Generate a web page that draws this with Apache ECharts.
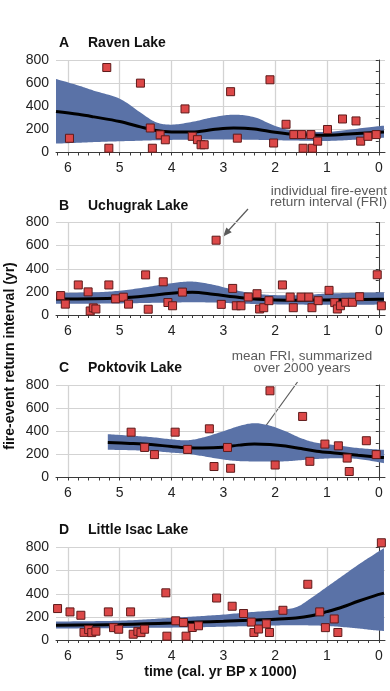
<!DOCTYPE html>
<html><head><meta charset="utf-8">
<script src="https://cdn.jsdelivr.net/npm/echarts@6/dist/echarts.min.js"></script>
<style>html,body{margin:0;padding:0;background:#fff}#c{width:390px;height:691px}</style>
</head><body><div id="c"></div>
<script>
// ---- labels ----
const xTickLabels = [0, 1, 2, 3, 4, 5, 6];
const yTickLabels = [0, 200, 400, 600, 800];
const panelLetters = ['A', 'B', 'C', 'D'];
const lakeNames = ['Raven Lake', 'Uchugrak Lake', 'Poktovik Lake', 'Little Isac Lake'];
const yAxisTitle = 'fire-event return interval (yr)';
const xAxisTitle = 'time (cal. yr BP x 1000)';
const noteFRI = ['individual fire-event', 'return interval (FRI)'];
const noteMean = ['mean FRI, summarized', 'over 2000 years'];

// ---- individual fire-event return intervals (time in ka BP, FRI in yr) ----
const ravenT = [5.97, 5.25, 5.21, 4.60, 4.41, 4.37, 4.22, 4.12, 3.74, 3.60, 3.50, 3.43, 3.37, 2.86, 2.73, 2.10, 2.03, 1.79, 1.64, 1.49, 1.46, 1.31, 1.28, 1.18, 0.99, 0.70, 0.44, 0.35, 0.21, 0.05];
const ravenV = [123, 735, 37, 600, 212, 37, 153, 110, 377, 140, 111, 67, 67, 526, 124, 629, 82, 244, 155, 155, 37, 155, 37, 98, 199, 290, 273, 98, 140, 155];

const uchuT = [6.14, 6.05, 5.80, 5.61, 5.57, 5.51, 5.46, 5.21, 5.08, 4.93, 4.83, 4.50, 4.45, 4.16, 4.07, 3.98, 3.79, 3.14, 3.04, 2.82, 2.75, 2.66, 2.52, 2.35, 2.30, 2.22, 2.12, 1.86, 1.71, 1.65, 1.50, 1.35, 1.29, 1.17, 0.96, 0.85, 0.80, 0.74, 0.64, 0.51, 0.37, 0.03, -0.05];
const uchuV = [168, 94, 260, 200, 35, 62, 52, 260, 140, 154, 94, 347, 50, 287, 108, 80, 198, 647, 92, 230, 80, 80, 156, 184, 52, 63, 124, 260, 155, 63, 155, 155, 63, 124, 213, 107, 52, 80, 110, 110, 158, 348, 80];

const poktT = [4.78, 4.52, 4.33, 3.93, 3.69, 3.27, 3.18, 2.92, 2.86, 2.10, 2.00, 1.47, 1.33, 1.04, 0.78, 0.61, 0.57, 0.24, 0.05];
const poktV = [392, 260, 198, 392, 243, 421, 95, 260, 80, 750, 108, 528, 140, 289, 274, 168, 52, 318, 198];

const isacT = [6.20, 5.96, 5.75, 5.69, 5.60, 5.54, 5.46, 5.22, 5.12, 5.02, 4.79, 4.74, 4.65, 4.59, 4.52, 4.11, 4.09, 3.92, 3.77, 3.72, 3.60, 3.48, 3.13, 2.83, 2.61, 2.46, 2.41, 2.32, 2.17, 2.11, 1.85, 1.37, 1.14, 1.03, 0.86, 0.79, -0.05];
const isacV = [272, 243, 214, 66, 90, 64, 76, 243, 107, 93, 243, 50, 75, 64, 93, 408, 33, 166, 152, 33, 108, 123, 363, 292, 229, 155, 65, 95, 140, 65, 257, 482, 243, 107, 182, 65, 841];

// ---- mean FRI and confidence band ----
const ravenBandT = [6.23, 5.8, 5.5, 5.0, 4.6, 4.3, 4.0, 3.6, 3.2, 2.8, 2.4, 2.0, 1.6, 1.0, 0.5, 0, -0.1];
const ravenMean  = [355, 330, 308, 268, 222, 190, 178, 178, 198, 212, 204, 175, 156, 150, 163, 176, 178];
const ravenHi    = [636, 580, 535, 465, 345, 262, 241, 265, 305, 327, 305, 230, 185, 178, 202, 228, 232];
const ravenLo    = [77, 84, 90, 97, 102, 106, 109, 111, 112, 112, 110, 106, 103, 100, 110, 125, 128];

const uchuBandT = [6.23, 5.5, 5.0, 4.5, 4.0, 3.6, 3.2, 2.8, 2.4, 2.0, 1.5, 1.0, 0.5, 0, -0.1];
const uchuMean  = [138, 140, 148, 165, 188, 196, 180, 158, 138, 130, 128, 130, 133, 136, 136];
const uchuHi    = [192, 196, 210, 240, 275, 289, 262, 218, 185, 172, 172, 185, 192, 196, 196];
const uchuLo    = [97, 98, 100, 104, 108, 110, 108, 101, 95, 92, 90, 88, 88, 90, 90];

const poktBandT = [5.23, 4.8, 4.4, 4.0, 3.7, 3.4, 3.0, 2.7, 2.4, 2.1, 1.8, 1.5, 1.2, 0.8, 0.4, 0, -0.1];
const poktMean  = [303, 295, 285, 268, 258, 255, 262, 280, 290, 285, 272, 250, 228, 210, 192, 175, 172];
const poktHi    = [375, 362, 350, 330, 322, 345, 400, 445, 470, 448, 400, 340, 300, 278, 255, 242, 240];
const poktLo    = [240, 236, 230, 215, 205, 185, 155, 142, 139, 139, 140, 150, 160, 167, 160, 132, 124];

const isacBandT = [6.23, 5.5, 5.0, 4.5, 4.0, 3.5, 3.0, 2.5, 2.0, 1.6, 1.3, 1.0, 0.7, 0.4, 0.1, -0.1];
const isacMean  = [127, 130, 133, 140, 147, 155, 162, 170, 179, 190, 210, 245, 285, 335, 380, 405];
const isacHi    = [160, 163, 167, 178, 192, 205, 220, 240, 257, 283, 365, 460, 555, 650, 738, 795];
const isacLo    = [100, 101, 103, 105, 107, 110, 115, 120, 126, 127, 126, 122, 112, 100, 85, 78];

const panels = [
  {t: ravenT, v: ravenV, bt: ravenBandT, mean: ravenMean, hi: ravenHi, lo: ravenLo},
  {t: uchuT, v: uchuV, bt: uchuBandT, mean: uchuMean, hi: uchuHi, lo: uchuLo},
  {t: poktT, v: poktV, bt: poktBandT, mean: poktMean, hi: poktHi, lo: poktLo},
  {t: isacT, v: isacV, bt: isacBandT, mean: isacMean, hi: isacHi, lo: isacLo}
];

// ---- styling / layout ----
const FONT = '"Liberation Sans", Arial, Helvetica, sans-serif';
const gridTops = [60, 222.5, 385, 547.5];
const gridH = 92.5;
const xMin = -0.12, xMax = 6.23;
const bandColor = '#5a72a7';
const axisColor = '#3a3a3a';
const gridColor = '#d3d3d3';
const minorXTicks = [];
for (let k = 0; k <= 31; k++) minorXTicks.push(Math.round(k * 2) / 10);

// Catmull-Rom smoothing of pixel points (shape only; positions come from api.coord)
function spline(pts, steps) {
  const out = [];
  const n = pts.length;
  for (let i = 0; i < n - 1; i++) {
    const p0 = pts[Math.max(0, i - 1)], p1 = pts[i], p2 = pts[i + 1], p3 = pts[Math.min(n - 1, i + 2)];
    for (let s = 0; s < steps; s++) {
      const u = s / steps, u2 = u * u, u3 = u2 * u;
      out.push([0, 1].map(d => 0.5 * (2 * p1[d] + (-p0[d] + p2[d]) * u +
        (2 * p0[d] - 5 * p1[d] + 4 * p2[d] - p3[d]) * u2 + (-p0[d] + 3 * p1[d] - 3 * p2[d] + p3[d]) * u3)));
    }
  }
  out.push(pts[n - 1].slice());
  return out;
}

const grids = [], xAxes = [], yAxes = [], series = [];
panels.forEach((p, i) => {
  grids.push({left: 56, right: 5, top: gridTops[i], height: gridH});
  xAxes.push({
    gridIndex: i, type: 'value', min: xMin, max: xMax, inverse: true,
    axisLine: {show: true, onZero: false, lineStyle: {color: axisColor, width: 1}},
    axisTick: {show: false, customValues: xTickLabels},
    axisLabel: {customValues: xTickLabels, fontSize: 14, color: '#222', fontFamily: FONT, margin: 9},
    splitLine: {show: true, lineStyle: {color: gridColor, width: 1.3}}
  });
  xAxes.push({
    gridIndex: i, type: 'value', min: xMin, max: xMax, inverse: true, position: 'bottom',
    axisLine: {show: false, onZero: false},
    axisTick: {show: true, length: 3, customValues: minorXTicks, lineStyle: {color: axisColor}},
    axisLabel: {show: false},
    splitLine: {show: false}
  });
  yAxes.push({
    gridIndex: i, type: 'value', min: 0, max: 800, interval: 200,
    axisLine: {show: true, lineStyle: {color: axisColor, width: 1}},
    axisTick: {show: true, length: 3, lineStyle: {color: axisColor}},
    minorTick: {show: true, splitNumber: 2, length: 3, lineStyle: {color: axisColor}},
    axisLabel: {fontSize: 14, color: '#222', fontFamily: FONT, margin: 7,
      formatter: v => yTickLabels.indexOf(v) >= 0 ? String(v) : ''},
    splitLine: {show: true, lineStyle: {color: gridColor, width: 1}}
  });
  // confidence band
  series.push({
    type: 'custom', xAxisIndex: 2 * i, yAxisIndex: i, silent: true, z: 1, clip: false,
    data: p.bt.map((t, k) => [t, p.lo[k], p.hi[k]]),
    renderItem: function (params, api) {
      if (params.dataIndex !== 0) return null;
      const up = p.bt.map((t, k) => api.coord([t, p.hi[k]]));
      const dn = p.bt.map((t, k) => api.coord([t, p.lo[k]]));
      const pts = spline(up, 12).concat(spline(dn, 12).reverse());
      return {type: 'polygon', shape: {points: pts}, style: {fill: bandColor, stroke: null}};
    }
  });
  // mean FRI
  series.push({
    type: 'line', xAxisIndex: 2 * i, yAxisIndex: i, smooth: 0.35, symbol: 'none', silent: true,
    lineStyle: {color: '#000', width: 3}, z: 3,
    data: p.bt.map((t, k) => [t, p.mean[k]])
  });
  // individual FRIs
  series.push({
    type: 'scatter', xAxisIndex: 2 * i, yAxisIndex: i, symbol: 'rect', symbolSize: 8,
    clip: false, z: 5,
    itemStyle: {color: '#dc4848', borderColor: '#5e1a1a', borderWidth: 1, opacity: 1},
    data: p.t.map((t, k) => [t, p.v[k]])
  });
});

// ---- text and annotation graphics ----
const titleY = [43, 206, 368.5, 530.5];
const graphics = [];
panels.forEach((p, i) => {
  graphics.push({type: 'text', x: 59, y: titleY[i], style: {text: panelLetters[i], font: 'bold 14px ' + FONT, fill: '#111', textVerticalAlign: 'middle'}});
  graphics.push({type: 'text', x: 88, y: titleY[i], style: {text: lakeNames[i], font: 'bold 14px ' + FONT, fill: '#111', textVerticalAlign: 'middle'}});
});
graphics.push({type: 'text', x: 10, y: 356, rotation: Math.PI / 2,
  style: {text: yAxisTitle, font: 'bold 14px ' + FONT, fill: '#111', textAlign: 'center', textVerticalAlign: 'middle'}});
graphics.push({type: 'text', x: 220.5, y: 672,
  style: {text: xAxisTitle, font: 'bold 14px ' + FONT, fill: '#111', textAlign: 'center', textVerticalAlign: 'middle'}});

function note(lines, x, ys, align) {
  lines.forEach((s, k) => graphics.push({type: 'text', x: x, y: ys[k],
    style: {text: s, font: '13.5px ' + FONT, fill: '#5a5a5a', textAlign: align, textVerticalAlign: 'middle'}}));
}
function arrow(x1, y1, x2, y2) {
  graphics.push({type: 'line', shape: {x1: x1, y1: y1, x2: x2, y2: y2}, style: {stroke: '#5a5a5a', lineWidth: 1.2}});
  const a = Math.atan2(y2 - y1, x2 - x1), L = 9, W = 3.6;
  const bx = x2 - L * Math.cos(a), by = y2 - L * Math.sin(a);
  graphics.push({type: 'polygon', shape: {points: [[x2, y2],
    [bx + W * Math.sin(a), by - W * Math.cos(a)], [bx - W * Math.sin(a), by + W * Math.cos(a)]]},
    style: {fill: '#5a5a5a'}});
}
note(noteFRI, 387, [191.5, 202.5], 'right');
arrow(248, 209, 223, 236.5);
note(noteMean, 302, [356.5, 368], 'center');
arrow(297.5, 382, 257, 438);

const chart = echarts.init(document.getElementById('c'), null, {renderer: 'canvas'});
chart.setOption({
  animation: false,
  backgroundColor: '#fff',
  grid: grids, xAxis: xAxes, yAxis: yAxes, series: series,
  graphic: graphics
});
</script></body></html>
